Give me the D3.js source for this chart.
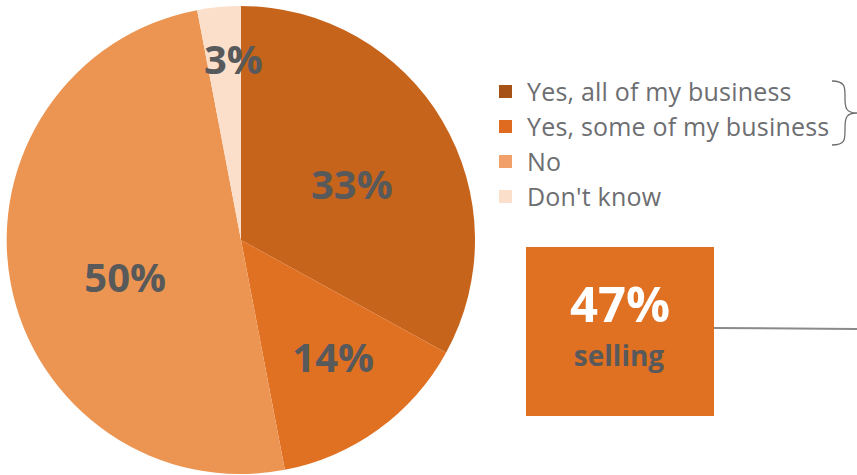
<!DOCTYPE html>
<html>
<head>
<meta charset="utf-8">
<script src="https://cdn.jsdelivr.net/npm/d3@7"></script>
<style>
  body { margin: 0; background: #fff; }
  svg { display: block; font-family: "Open Sans", sans-serif; }
</style>
</head>
<body>
<svg id="chart" width="857" height="475"></svg>
<script>
// data
var categories = ["Yes, all of my business", "Yes, some of my business", "No", "Don't know"];
var values = [33, 14, 50, 3];
var sliceColors = ["#C7641C", "#E07022", "#EC9552", "#FBDFCB"];
var legendColors = ["#A65216", "#DE6B20", "#F0A068", "#FBDFCB"];
var sellingLabel = ["47%", "selling"];

var svg = d3.select("#chart");

// pie
var cx = 241, cy = 240, r = 234;
var pie = d3.pie().sort(null).value(function(d) { return d; });
var arc = d3.arc().innerRadius(0).outerRadius(r);
var arcs = pie(values);

var g = svg.append("g").attr("transform", "translate(" + cx + "," + cy + ")");

g.selectAll("path")
    .data(arcs)
    .enter().append("path")
    .attr("d", arc)
    .attr("fill", function(d, i) { return sliceColors[i]; });

// label placement: radius fraction and angle nudge (degrees) per slice
var labelR = [0.53, 0.64, 0.52, 0.77];
var labelNudge = [4, -2, -7, 3];
g.selectAll("text")
    .data(arcs)
    .enter().append("text")
    .attr("transform", function(d, i) {
        var a = (d.startAngle + d.endAngle) / 2 + labelNudge[i] * Math.PI / 180;
        var rr = r * labelR[i];
        return "translate(" + (rr * Math.sin(a)) + "," + (-rr * Math.cos(a)) + ")";
    })
    .attr("text-anchor", "middle")
    .attr("dy", "0.36em")
    .style("font-size", "40px")
    .style("font-weight", 700)
    .style("fill", "#58595b")
    .text(function(d) { return d.data + "%"; });

// legend
var legend = svg.append("g").attr("transform", "translate(499,92)");
var rows = legend.selectAll("g")
    .data(categories)
    .enter().append("g")
    .attr("transform", function(d, i) { return "translate(0," + (i * 35) + ")"; });

rows.append("rect")
    .attr("x", 0).attr("y", -7)
    .attr("width", 13).attr("height", 13)
    .attr("fill", function(d, i) { return legendColors[i]; });

rows.append("text")
    .attr("x", 28)
    .attr("dy", "0.36em")
    .style("font-size", "25px")
    .style("letter-spacing", "0.2px")
    .style("fill", "#6d6e71")
    .text(function(d) { return d; });

// brace round the two yes rows
svg.append("path")
    .attr("d", "M832,81 C846,81 845,88 845,98 C845,108 846,113 857,113 C846,113 845,118 845,128 C845,139 846,145 832,145")
    .attr("fill", "none")
    .attr("stroke", "#6d6e71")
    .attr("stroke-width", 1.3);

// selling box
svg.append("line")
    .attr("x1", 714).attr("y1", 328)
    .attr("x2", 857).attr("y2", 329)
    .attr("stroke", "#8a8a8a")
    .attr("stroke-width", 2);

svg.append("rect")
    .attr("x", 526).attr("y", 247)
    .attr("width", 188).attr("height", 169)
    .attr("fill", "#E07022");

svg.append("text")
    .attr("x", 620).attr("y", 322)
    .attr("text-anchor", "middle")
    .style("font-size", "49px")
    .style("font-weight", 700)
    .style("fill", "#fff")
    .text(sellingLabel[0]);

svg.append("text")
    .attr("x", 619).attr("y", 366)
    .attr("text-anchor", "middle")
    .style("font-size", "28px")
    .style("font-weight", 700)
    .style("fill", "#58595b")
    .text(sellingLabel[1]);
</script>
</body>
</html>
